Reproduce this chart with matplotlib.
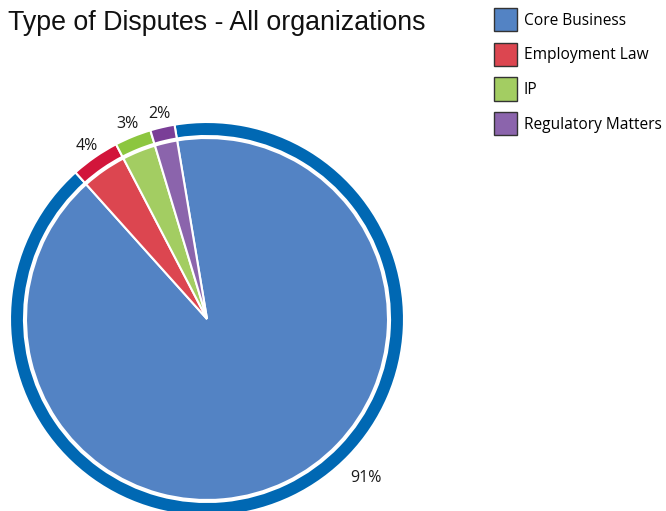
import matplotlib
matplotlib.use("Agg")
import matplotlib.pyplot as plt
from matplotlib.patches import Patch
import numpy as np

# data
labels = ["Core Business", "Employment Law", "IP", "Regulatory Matters"]
values = [91, 4, 3, 2]
inner_colors = ["#5383c4", "#dc4650", "#a3cd62", "#8b64ac"]
ring_colors = ["#0068b3", "#d2153a", "#8cc63f", "#7a3e97"]

W, H = 666, 511
fig = plt.figure(figsize=(W / 100, H / 100), dpi=100)
ax = fig.add_axes([0, 0, 1, 1])

cx, cy = 207, 192
r_out = 197
ring_w = 14
r_in = 181
start = 99.5

# outer ring (darker shade) with percent labels
wedges, texts, autotexts = ax.pie(values, radius=r_out, center=(cx, cy), colors=ring_colors,
                                  startangle=start, counterclock=False,
                                  autopct=lambda p: f"{p:.0f}%", pctdistance=1.07,
                                  wedgeprops=dict(width=ring_w, edgecolor="white", linewidth=1.5),
                                  textprops=dict(fontsize=11.5, family="Open Sans", color="#1a1a1a"))
# inner pie
ax.pie(values, radius=r_in, center=(cx, cy), colors=inner_colors,
       startangle=start, counterclock=False,
       wedgeprops=dict(edgecolor="white", linewidth=1.5))

# big slice label sits lower right
ang = np.deg2rad(-45)
autotexts[0].set_position((cx + 225 * np.cos(ang), cy + 225 * np.sin(ang)))

ax.set_xlim(0, W)
ax.set_ylim(0, H)
ax.set_aspect("equal")
ax.axis("off")

fig.text(8 / W, 1 - 30 / H, "Type of Disputes - All organizations", fontsize=19.3,
         family="Liberation Sans", va="baseline", ha="left", color="#111111")

handles = [Patch(facecolor=c, edgecolor="#333333", linewidth=1) for c in inner_colors]
fig.legend(handles, labels, loc="upper left", bbox_to_anchor=(494 / W, 1 - 8 / H),
           frameon=False, borderpad=0, borderaxespad=0, handlelength=1.5, handleheight=1.94,
           handletextpad=0.4, labelspacing=0.72,
           prop=dict(family="Open Sans", size=11.2))

fig.savefig("out.png", dpi=100)
